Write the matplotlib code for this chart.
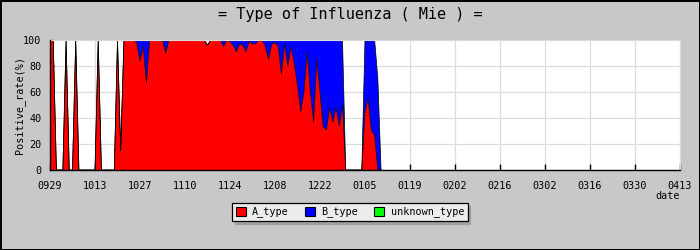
import matplotlib

matplotlib.use("Agg")
import matplotlib.pyplot as plt
import numpy as np
import pandas as pd
from matplotlib.patches import Patch

start_date = "2014-09-29"
end_date = "2015-04-13"

# daily positive rate (%) by type, 0 where no report
a_type = [
    100, 100, 0, 0, 0, 100, 0, 0, 100, 0,
    0, 0, 0, 0, 0, 100, 0, 0, 0, 0,
    0, 100, 15, 100, 100, 100, 100, 98, 84, 95,
    67, 100, 100, 100, 100, 100, 90, 100, 100, 100,
    100, 100, 100, 100, 100, 100, 100, 100, 100, 96,
    100, 100, 100, 100, 95, 100, 99, 96, 91, 97,
    96, 91, 99, 97, 97, 100, 100, 95, 85, 97,
    98, 95, 74, 97, 80, 95, 82, 65, 45, 60,
    91, 60, 37, 85, 60, 33, 31, 48, 37, 48,
    34, 50, 0, 0, 0, 0, 0, 0, 45, 55,
    30, 27, 0, 0,
]
b_type = [
    0, 0, 0, 0, 0, 0, 0, 0, 0, 0,
    0, 0, 0, 0, 0, 0, 0, 0, 0, 0,
    0, 0, 0, 0, 0, 0, 0, 2, 16, 5,
    33, 0, 0, 0, 0, 0, 10, 0, 0, 0,
    0, 0, 0, 0, 0, 0, 0, 0, 0, 0,
    0, 0, 0, 0, 5, 0, 1, 4, 9, 3,
    4, 9, 1, 3, 3, 0, 0, 5, 15, 3,
    2, 5, 26, 3, 20, 5, 18, 35, 55, 40,
    9, 40, 63, 15, 40, 67, 69, 52, 63, 52,
    66, 50, 0, 0, 0, 0, 0, 0, 55, 45,
    70, 73, 70, 0,
]
unknown_type = [0] * len(a_type)

tick_labels = ["0929", "1013", "1027", "1110", "1124", "1208", "1222", "0105",
               "0119", "0202", "0216", "0302", "0316", "0330", "0413"]

dates = pd.date_range(start_date, periods=len(a_type), freq="D")
tick_dates = pd.date_range(start_date, end_date, freq="14D")

bg = "#c8c8c8"
mono = "DejaVu Sans Mono"

fig = plt.figure(figsize=(7, 2.5), dpi=100, facecolor=bg, edgecolor="black", linewidth=1.0)
ax = fig.add_axes([50 / 700, 80 / 250, 630 / 700, 130 / 250])
ax.set_facecolor("white")

ax.stackplot(dates, a_type, b_type, unknown_type,
             colors=["#ff0000", "#0000ff", "#00ff00"], linewidth=0)
# one black outline per layer top
tops = np.cumsum([a_type, b_type, unknown_type], axis=0)
ax.plot(dates, tops[0], color="black", linewidth=0.5)
ax.plot(dates, tops[2], color="black", linewidth=0.5)

ax.set_xlim(pd.Timestamp(start_date), pd.Timestamp(end_date))
ax.set_ylim(0, 100)
ax.set_xticks(tick_dates)
ax.set_xticklabels(tick_labels, fontfamily=mono, fontsize=7.3)
ax.set_yticks(np.arange(0, 101, 20))
ax.set_yticks(np.arange(0, 101, 10), minor=True)
ax.set_yticklabels([str(v) for v in range(0, 101, 20)], fontfamily=mono, fontsize=7.3)
ax.tick_params(axis="x", direction="in", length=4, width=1, pad=8)
ax.tick_params(axis="y", which="major", direction="in", length=3, width=0.8, pad=6)
ax.tick_params(axis="y", which="minor", direction="in", length=2, width=0.8)

ax.set_axisbelow(True)
ax.grid(True, color="#dcdcdc", linewidth=0.9)
for side in ["top", "right"]:
    ax.spines[side].set_color("#dcdcdc")
for side in ["left", "bottom"]:
    ax.spines[side].set_linewidth(1.0)
    ax.spines[side].set_zorder(5)

fig.text(0.5, 1 - 14 / 250, "= Type of Influenza ( Mie ) =", ha="center", va="center",
         fontfamily=mono, fontsize=11)
fig.text(20 / 700, 1 - 105 / 250, "Positive_rate(%)", rotation=90, ha="center", va="center",
         fontfamily=mono, fontsize=7.3)
fig.text(668 / 700, 1 - 196 / 250, "date", ha="center", va="center",
         fontfamily=mono, fontsize=7.3)

handles = [
    Patch(facecolor="#ff0000", edgecolor="black", linewidth=0.8),
    Patch(facecolor="#0000ff", edgecolor="black", linewidth=0.8),
    Patch(facecolor="#00ff00", edgecolor="black", linewidth=0.8),
]
leg = fig.legend(handles, ["A_type", "B_type", "unknown_type"], loc="center",
                 bbox_to_anchor=(350 / 700, 1 - 212 / 250), ncol=3, frameon=True,
                 fancybox=False, shadow={"color": "#a0a0a0", "alpha": 1},
                 edgecolor="black", facecolor="#ececec", framealpha=1,
                 handlelength=1.0, handleheight=1.0, handletextpad=0.6,
                 columnspacing=1.6, borderpad=0.35, prop={"family": mono, "size": 7.3})
leg.get_frame().set_linewidth(0.9)

fig.savefig("out.png", dpi=100)
